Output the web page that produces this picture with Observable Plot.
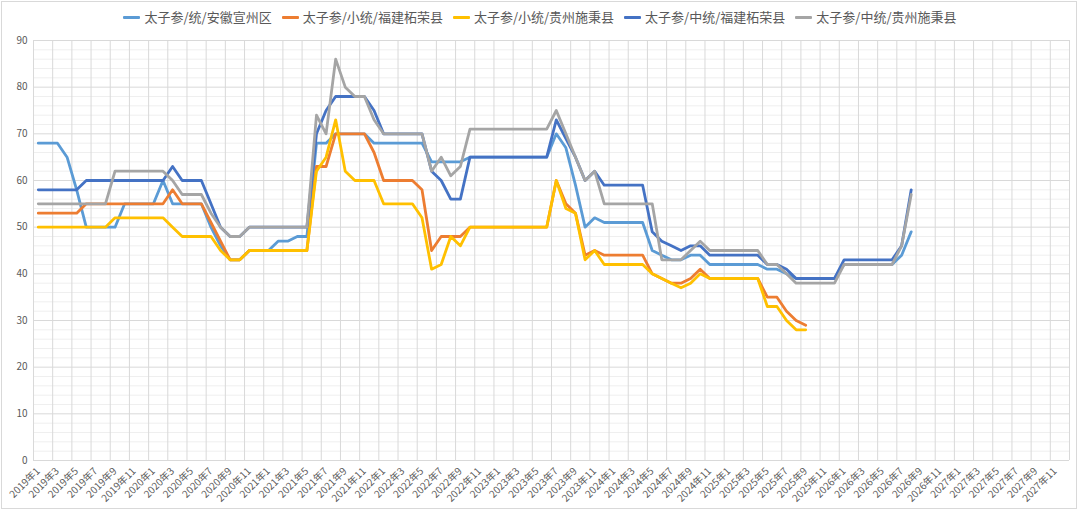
<!DOCTYPE html>
<html>
<head>
<meta charset="utf-8">
<script src="https://cdn.jsdelivr.net/npm/d3@7"></script>
<script src="https://cdn.jsdelivr.net/npm/@observablehq/plot@0.6"></script>
<style>
  html, body { margin: 0; padding: 0; background: #fff; }
  body { font-family: "Noto Sans CJK SC", "Noto Sans", sans-serif; }
  #wrap { position: relative; width: 1080px; height: 512px; overflow: hidden; background: #fff; }
  #frame { position: absolute; left: 1px; top: 1px; width: 1076px; height: 508px; border: 1px solid #d9d9d9; box-sizing: border-box; pointer-events: none; }
  #legend { position: absolute; top: 8px; left: 0; width: 1080px; display: flex; justify-content: center; gap: 10px; font-size: 13px; line-height: 18px; color: #595959; }
  .item { display: flex; align-items: center; white-space: nowrap; }
  .sw { display: inline-block; width: 17px; height: 3px; margin-right: 4px; border-radius: 1px; }
  #chart { position: absolute; left: 0; top: 30px; }
</style>
</head>
<body>
<div id="wrap">
  <div id="legend"></div>
  <div id="chart"></div>
  <div id="frame"></div>
</div>
<script>
// Series names and colours (Excel default palette)
const seriesNames = ["太子参/统/安徽宣州区", "太子参/小统/福建柘荣县", "太子参/小统/贵州施秉县", "太子参/中统/福建柘荣县", "太子参/中统/贵州施秉县"];
const seriesColors = ["#5B9BD5", "#ED7D31", "#FFC000", "#4472C4", "#A5A5A5"];

// Category tick labels (every second month, 2019年1 … 2027年11)
const tickLabels = [
  "2019年1","2019年3","2019年5","2019年7","2019年9","2019年11",
  "2020年1","2020年3","2020年5","2020年7","2020年9","2020年11",
  "2021年1","2021年3","2021年5","2021年7","2021年9","2021年11",
  "2022年1","2022年3","2022年5","2022年7","2022年9","2022年11",
  "2023年1","2023年3","2023年5","2023年7","2023年9","2023年11",
  "2024年1","2024年3","2024年5","2024年7","2024年9","2024年11",
  "2025年1","2025年3","2025年5","2025年7","2025年9","2025年11",
  "2026年1","2026年3","2026年5","2026年7","2026年9","2026年11",
  "2027年1","2027年3","2027年5","2027年7","2027年9","2027年11"
];
const monthCount = 108;
const yTicks = [0, 10, 20, 30, 40, 50, 60, 70, 80, 90];

// Monthly values starting 2019年1
const anhuiTong = [
  68,68,68,65,58,50,50,50,50,55,
  55,55,55,60,55,55,55,55,50,46,
  43,43,45,45,45,47,47,48,48,68,
  68,70,70,70,70,68,68,68,68,68,
  68,64,64,64,64,65,65,65,65,65,
  65,65,65,65,70,67,59,50,52,51,
  51,51,51,51,45,44,43,43,44,44,
  42,42,42,42,42,42,41,41,40,39,
  39,39,39,39,42,42,42,42,42,42,
  44,49
];
const fujianXiao = [
  53,53,53,53,53,55,55,55,55,55,
  55,55,55,55,58,55,55,55,51,47,
  43,43,45,45,45,45,45,45,45,63,
  63,70,70,70,70,66,60,60,60,60,
  58,45,48,48,48,50,50,50,50,50,
  50,50,50,50,60,55,53,44,45,44,
  44,44,44,44,40,39,38,38,39,41,
  39,39,39,39,39,39,35,35,32,30,
  29
];
const guizhouXiao = [
  50,50,50,50,50,50,50,50,52,52,
  52,52,52,52,50,48,48,48,48,45,
  43,43,45,45,45,45,45,45,45,62,
  65,73,62,60,60,60,55,55,55,55,
  52,41,42,48,46,50,50,50,50,50,
  50,50,50,50,60,54,53,43,45,42,
  42,42,42,42,40,39,38,37,38,40,
  39,39,39,39,39,39,33,33,30,28,
  28
];
const fujianZhong = [
  58,58,58,58,58,60,60,60,60,60,
  60,60,60,60,63,60,60,60,55,50,
  48,48,50,50,50,50,50,50,50,70,
  75,78,78,78,78,75,70,70,70,70,
  70,62,60,56,56,65,65,65,65,65,
  65,65,65,65,73,69,65,60,62,59,
  59,59,59,59,49,47,46,45,46,46,
  44,44,44,44,44,44,42,42,41,39,
  39,39,39,39,43,43,43,43,43,43,
  46,58
];
const guizhouZhong = [
  55,55,55,55,55,55,55,55,62,62,
  62,62,62,62,60,57,57,57,53,50,
  48,48,50,50,50,50,50,50,50,74,
  70,86,80,78,78,73,70,70,70,70,
  70,62,65,61,63,71,71,71,71,71,
  71,71,71,71,75,70,65,60,62,55,
  55,55,55,55,55,43,43,43,45,47,
  45,45,45,45,45,45,42,42,40,38,
  38,38,38,38,42,42,42,42,42,42,
  46,57
];

const seriesValues = [anhuiTong, fujianXiao, guizhouXiao, fujianZhong, guizhouZhong];

// Long table: month index centred in its category
const rows = [];
seriesValues.forEach((vals, k) => {
  vals.forEach((v, i) => rows.push({series: seriesNames[k], m: i + 0.5, v}));
});

// Legend
const legend = document.getElementById("legend");
seriesNames.forEach((n, k) => {
  const it = document.createElement("div");
  it.className = "item";
  it.innerHTML = `<span class="sw" style="background:${seriesColors[k]}"></span><span>${n}</span>`;
  legend.appendChild(it);
});

const tickPos = tickLabels.map((_, j) => j * 2 + 0.5);
const boundaries = d3.range(0, monthCount + 1, 2);
const minorY = d3.range(0, 91, 2).filter(v => v % 10 !== 0);

const chart = Plot.plot({
  width: 1080,
  height: 482,
  marginTop: 10,
  marginLeft: 33,
  marginRight: 11,
  marginBottom: 52,
  style: {fontFamily: '"Noto Sans CJK SC", "Noto Sans", sans-serif', color: "#595959", background: "transparent"},
  x: {domain: [0, monthCount], axis: null},
  y: {domain: [0, 90], axis: null},
  color: {domain: seriesNames, range: seriesColors},
  marks: [
    Plot.ruleY(minorY, {stroke: "#efefef", strokeWidth: 1}),
    Plot.ruleY(yTicks, {stroke: "#d9d9d9", strokeWidth: 1}),
    Plot.ruleX(boundaries, {stroke: "#d9d9d9", strokeWidth: 1}),
    Plot.axisY(yTicks, {tickSize: 0, tickPadding: 6, fontSize: 10, label: null}),
    Plot.axisX(tickPos, {tickSize: 0, tickPadding: 9, tickRotate: -45, fontSize: 10, label: null,
      tickFormat: d => tickLabels[Math.round((d - 0.5) / 2)]}),
    Plot.line(rows, {x: "m", y: "v", z: "series", stroke: "series", strokeWidth: 2.8,
      strokeLinejoin: "round", strokeLinecap: "round", curve: "linear"})
  ]
});
document.getElementById("chart").appendChild(chart);
</script>
</body>
</html>
